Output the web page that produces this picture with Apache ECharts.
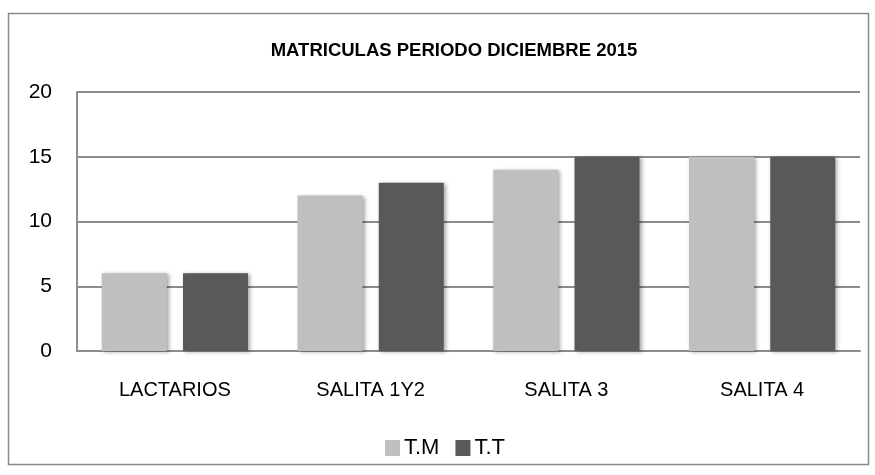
<!DOCTYPE html>
<html>
<head>
<meta charset="utf-8">
<script src="https://cdn.jsdelivr.net/npm/echarts@6/dist/echarts.min.js"></script>
<style>
  html, body { margin: 0; padding: 0; background: #fff; }
  #chart { width: 875px; height: 475px; }
</style>
</head>
<body>
<div id="chart"></div>
<script>
const categories = ['LACTARIOS', 'SALITA 1Y2', 'SALITA 3', 'SALITA 4']
const seriesNames = ['T.M', 'T.T']
const tmValues = [6, 12, 14, 15]
const ttValues = [6, 13, 15, 15]
const yTicks = { min: 0, max: 20, interval: 5 }

const font = "'Liberation Sans', 'DejaVu Sans', sans-serif"
const barShadow = {
  shadowBlur: 4,
  shadowOffsetX: 2,
  shadowOffsetY: 1,
  shadowColor: 'rgba(0,0,0,0.35)'
}

const chart = echarts.init(document.getElementById('chart'), null, { renderer: 'canvas' })
chart.setOption({
  animation: false,
  backgroundColor: '#fff',
  textStyle: { fontFamily: font, color: '#000' },
  graphic: [{
    type: 'rect',
    shape: { x: 8.5, y: 13.5, width: 860, height: 451 },
    style: { fill: 'none', stroke: '#8a8a8a', lineWidth: 1.5 },
    z: -1
  }],
  title: {
    text: 'MATRICULAS PERIODO DICIEMBRE 2015',
    left: 449,
    top: 36,
    textAlign: 'center',
    textStyle: { fontSize: 18.5, fontWeight: 'bold', color: '#000', fontFamily: font }
  },
  legend: {
    data: seriesNames,
    top: 432,
    left: 380,
    itemWidth: 15,
    itemHeight: 16,
    itemGap: 16,
    icon: 'rect',
    textStyle: { fontSize: 22, color: '#000', fontFamily: font, padding: [3, 0, 0, -1] }
  },
  grid: { left: 77, right: 15, top: 92, bottom: 124 },
  xAxis: {
    type: 'category',
    data: categories,
    axisLine: { lineStyle: { color: '#8c8c8c', width: 2 } },
    axisTick: { show: false },
    axisLabel: { fontSize: 20, color: '#000', margin: 29, fontFamily: font }
  },
  yAxis: {
    type: 'value',
    min: yTicks.min,
    max: yTicks.max,
    interval: yTicks.interval,
    axisLine: { show: true, lineStyle: { color: '#8c8c8c', width: 2 } },
    axisTick: { show: false },
    splitLine: { lineStyle: { color: '#8c8c8c', width: 2 } },
    axisLabel: { fontSize: 21, color: '#000', margin: 25, fontFamily: font }
  },
  series: [
    {
      name: seriesNames[0],
      type: 'bar',
      data: tmValues,
      barWidth: 65,
      barGap: '25%',
      itemStyle: Object.assign({ color: '#bfbfbf' }, barShadow)
    },
    {
      name: seriesNames[1],
      type: 'bar',
      data: ttValues,
      barWidth: 65,
      itemStyle: Object.assign({ color: '#595959' }, barShadow)
    }
  ]
})
</script>
</body>
</html>
